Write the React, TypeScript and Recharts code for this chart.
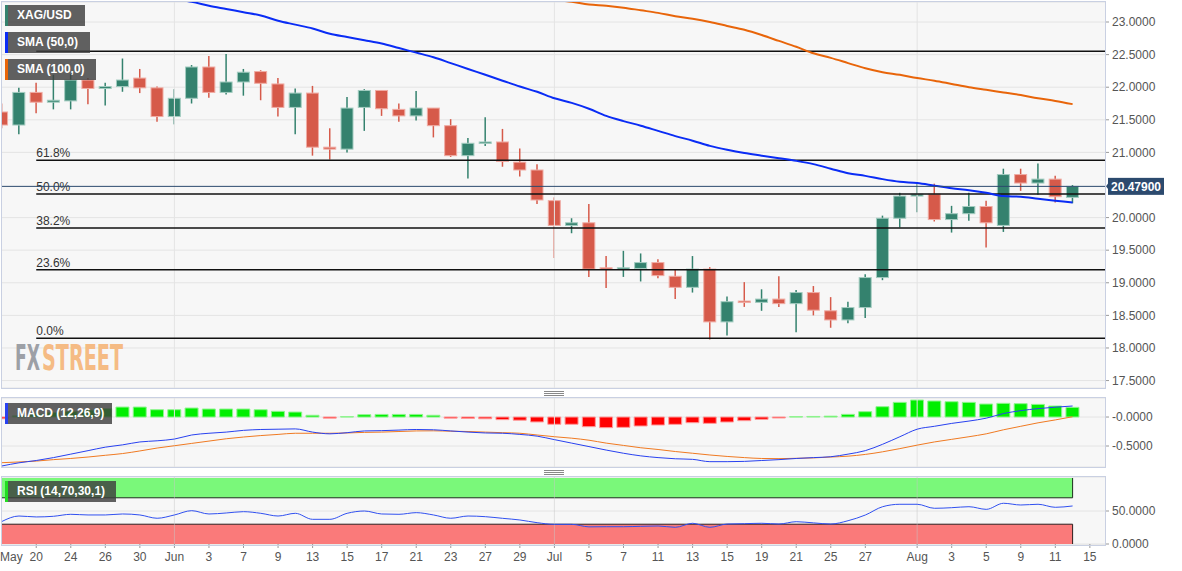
import React from 'react';
import {
  ComposedChart,
  Bar,
  Line,
  XAxis,
  YAxis,
  CartesianGrid,
  ReferenceLine,
  ReferenceArea,
  Cell,
} from 'recharts';

// trading days shown on the chart (2022)
const DATES = [
  'May 18', 'May 19', 'May 20', 'May 23', 'May 24', 'May 25', 'May 26', 'May 27', 'May 30', 'May 31',
  'Jun 1', 'Jun 2', 'Jun 3', 'Jun 6', 'Jun 7', 'Jun 8', 'Jun 9', 'Jun 10', 'Jun 13', 'Jun 14',
  'Jun 15', 'Jun 16', 'Jun 17', 'Jun 20', 'Jun 21', 'Jun 22', 'Jun 23', 'Jun 24', 'Jun 27', 'Jun 28',
  'Jun 29', 'Jun 30', 'Jul 1', 'Jul 4', 'Jul 5', 'Jul 6', 'Jul 7', 'Jul 8', 'Jul 11', 'Jul 12',
  'Jul 13', 'Jul 14', 'Jul 15', 'Jul 18', 'Jul 19', 'Jul 20', 'Jul 21', 'Jul 22', 'Jul 25', 'Jul 26',
  'Jul 27', 'Jul 28', 'Jul 29', 'Aug 1', 'Aug 2', 'Aug 3', 'Aug 4', 'Aug 5', 'Aug 8', 'Aug 9',
  'Aug 10', 'Aug 11', 'Aug 12',
];

const OPEN = [
  21.62, 21.42, 21.92, 21.77, 21.79, 22.11, 21.98, 22.01, 22.14, 21.99,
  21.55, 21.83, 22.31, 21.92, 22.08, 22.24, 22.05, 21.69, 21.91, 21.08,
  21.05, 21.69, 21.95, 21.66, 21.56, 21.68, 21.41, 20.95, 21.15, 21.16,
  20.85, 20.73, 20.26, 19.88, 19.92, 19.23, 19.22, 19.22, 19.31, 19.10,
  18.93, 19.21, 18.40, 18.72, 18.70, 18.75, 18.68, 18.85, 18.57, 18.43,
  18.62, 19.08, 19.99, 20.33, 20.36, 19.97, 20.06, 20.17, 19.88, 20.66,
  20.53, 20.59, 20.31,
];
const HIGH = [
  21.75, 21.99, 22.07, 22.19, 22.20, 22.14, 22.07, 22.44, 22.28, 22.01,
  21.97, 22.34, 22.48, 22.51, 22.28, 22.26, 22.14, 21.98, 22.02, 21.37,
  21.85, 21.97, 21.95, 21.75, 21.94, 21.68, 21.51, 21.22, 21.54, 21.36,
  21.06, 20.82, 20.31, 19.99, 20.21, 19.41, 19.49, 19.45, 19.36, 19.20,
  19.41, 19.24, 18.79, 19.01, 18.90, 19.10, 18.89, 18.95, 18.78, 18.71,
  19.13, 20.03, 20.38, 20.52, 20.52, 20.18, 20.38, 20.26, 20.75, 20.75,
  20.83, 20.64, 20.50,
];
const LOW = [
  21.37, 21.28, 21.60, 21.66, 21.66, 21.74, 21.72, 21.93, 21.91, 21.47,
  21.43, 21.75, 21.84, 21.89, 21.87, 21.80, 21.55, 21.28, 20.95, 20.89,
  21.00, 21.33, 21.56, 21.47, 21.49, 21.23, 20.93, 20.60, 21.10, 20.78,
  20.63, 20.21, 19.38, 19.76, 19.09, 18.92, 19.09, 19.02, 19.07, 18.75,
  18.85, 18.13, 18.19, 18.63, 18.57, 18.63, 18.24, 18.50, 18.31, 18.38,
  18.46, 19.04, 19.85, 20.08, 19.94, 19.77, 19.95, 19.54, 19.78, 20.41,
  20.35, 20.23, 20.22,
];
const CLOSE = [
  21.42, 21.92, 21.77, 21.80, 22.11, 21.98, 22.01, 22.11, 21.99, 21.55,
  21.83, 22.31, 21.92, 22.08, 22.23, 22.06, 21.69, 21.91, 21.08, 21.05,
  21.68, 21.95, 21.67, 21.56, 21.68, 21.41, 20.95, 21.14, 21.16, 20.86,
  20.73, 20.27, 19.88, 19.92, 19.21, 19.21, 19.23, 19.31, 19.11, 18.93,
  19.21, 18.40, 18.71, 18.70, 18.75, 18.68, 18.85, 18.58, 18.43, 18.62,
  19.08, 19.99, 20.33, 20.36, 19.97, 20.06, 20.17, 19.92, 20.66, 20.53,
  20.59, 20.32, 20.479,
];

const SMA50 = [
  null, null, null, null, null, null, null, null, null, null,
  23.35, 23.31, 23.25, 23.2, 23.15, 23.1, 23.02, 22.96, 22.9, 22.82,
  22.77, 22.72, 22.67, 22.6, 22.53, 22.46, 22.37, 22.28, 22.19, 22.1,
  22.01, 21.93, 21.83, 21.76, 21.67, 21.56, 21.48, 21.41, 21.33, 21.25,
  21.18, 21.1, 21.04, 20.99, 20.95, 20.91, 20.87, 20.82, 20.75, 20.68,
  20.64, 20.59, 20.55, 20.53, 20.49, 20.45, 20.42, 20.38, 20.33, 20.32,
  20.29, 20.26, 20.23,
];
const SMA100 = [
  null, null, null, null, null, null, null, null, null, null,
  null, null, null, null, null, null, null, null, null, null,
  null, null, null, null, null, null, null, null, null, null,
  null, 23.37, 23.34, 23.31, 23.27, 23.25, 23.22, 23.18, 23.14, 23.09,
  23.05, 23.0, 22.94, 22.88, 22.8, 22.71, 22.62, 22.52, 22.45, 22.37,
  22.29, 22.23, 22.19, 22.14, 22.1, 22.05, 22.0, 21.96, 21.92, 21.88,
  21.83, 21.79, 21.74,
];

const MACD = [
  -0.845, -0.79, -0.75, -0.7, -0.64, -0.58, -0.52, -0.48, -0.43, -0.41,
  -0.38, -0.31, -0.28, -0.26, -0.23, -0.215, -0.21, -0.205, -0.26, -0.29,
  -0.27, -0.24, -0.235, -0.225, -0.215, -0.22, -0.24, -0.26, -0.275, -0.28,
  -0.3, -0.33, -0.39, -0.45, -0.51, -0.57, -0.625, -0.67, -0.7, -0.72,
  -0.73, -0.77, -0.77, -0.765, -0.75, -0.735, -0.715, -0.7, -0.685, -0.64,
  -0.58, -0.47, -0.34, -0.21, -0.16, -0.11, -0.07, -0.02, 0.06, 0.11,
  0.145, 0.17, 0.19,
];
const SIGNAL = [
  -0.788, -0.775, -0.76, -0.735, -0.715, -0.69, -0.66, -0.63, -0.585, -0.535,
  -0.495, -0.455, -0.415, -0.375, -0.345, -0.32, -0.3, -0.28, -0.28, -0.28,
  -0.275, -0.265, -0.26, -0.25, -0.24, -0.238, -0.245, -0.25, -0.26, -0.27,
  -0.28, -0.31, -0.34, -0.365, -0.4, -0.45, -0.49, -0.53, -0.56, -0.595,
  -0.625, -0.655, -0.68, -0.7, -0.715, -0.718, -0.712, -0.705, -0.69, -0.675,
  -0.645, -0.6, -0.545, -0.485, -0.43, -0.385, -0.34, -0.29, -0.22, -0.16,
  -0.1, -0.05, 0.005,
];
const HIST = [
  -0.03, 0.02, 0.05, 0.08, 0.1, 0.12, 0.144, 0.172, 0.172, 0.126,
  0.126, 0.155, 0.138, 0.138, 0.138, 0.126, 0.098, 0.086, 0.03, -0.02,
  0.005, 0.04, 0.045, 0.045, 0.045, 0.03, -0.02, -0.025, -0.03, -0.045,
  -0.055, -0.085, -0.125, -0.125, -0.167, -0.184, -0.178, -0.155, -0.138, -0.126,
  -0.098, -0.109, -0.086, -0.063, -0.04, -0.017, 0.005, 0.01, 0.015, 0.046,
  0.092, 0.178, 0.253, 0.293, 0.276, 0.264, 0.253, 0.224, 0.236, 0.23,
  0.218, 0.19, 0.167,
];
const RSI = [
  34, 42.4, 41, 42, 45, 44, 44, 45.5, 44, 39,
  44, 50.5, 45.5, 47, 49, 46.5, 42.4, 46.5, 37.4, 37.4,
  46.5, 50, 45.5, 45, 47.5, 44, 39, 42.4, 41.4, 38.9,
  36.4, 32.3, 29.8, 29.8, 26, 26.2, 26.2, 26.8, 27.3, 25.3,
  31.4, 25.3, 30.3, 30.8, 31.4, 30.3, 33.8, 32, 30.3, 35.3,
  43.9, 56.5, 60.2, 60.2, 54.1, 55, 56.5, 52.5, 61.7, 59.1,
  60.2, 55.6, 57.6,
];

const FIB_LEVELS = [
  { label: '0.0%', value: 18.15 },
  { label: '23.6%', value: 19.2 },
  { label: '38.2%', value: 19.84 },
  { label: '50.0%', value: 20.36 },
  { label: '61.8%', value: 20.88 },
  { label: '', value: 22.55 },
];
const FIB_START = 2;
const LAST_PRICE = 20.479;

const X_TICKS = [0, 2, 4, 6, 8, 10, 12, 14, 16, 18, 20, 22, 24, 26, 28, 30, 32, 34, 36, 38, 40, 42, 44, 46, 48, 50, 53, 55, 57, 59, 61, 63];
const X_LABELS = ['May', '20', '24', '26', '30', 'Jun', '3', '7', '9', '13', '15', '17', '21', '23', '27', '29', 'Jul', '5', '7', '11', '13', '15', '19', '21', '25', '27', 'Aug', '3', '5', '9', '11', '15'];
const MONTH_STARTS = [10, 32, 53];

const PRICE_TICKS = [17.5, 18, 18.5, 19, 19.5, 20, 21, 21.5, 22, 22.5, 23];
const MACD_TICKS = [-0.5, 0];
const RSI_TICKS = [0, 50];

const rows = DATES.map((date, i) => ({
  i,
  date,
  open: OPEN[i],
  high: HIGH[i],
  low: LOW[i],
  close: CLOSE[i],
  sma50: SMA50[i],
  sma100: SMA100[i],
  macd: MACD[i],
  signal: SIGNAL[i],
  hist: HIST[i],
  rsi: RSI[i],
}));

const W = 1182;
const AXIS_W = 77;
const X_DOMAIN: [number, number] = [-0.04, 63.876];
const GRID = '#e4e4e4';
const FRAME = '#c9d0e2';
const UP = '#34826e';
const UP_EDGE = '#a3ccc0';
const DOWN = '#d65a4a';
const DOWN_EDGE = '#f0aca4';
const FONT = '"Liberation Sans", Arial, sans-serif';

function Candle(props: any) {
  const { x, y, width, height, payload } = props;
  if (!payload) return null;
  const { open, close, high, low } = payload;
  const top = Math.min(y, y + height);
  const h = Math.abs(height);
  const span = high - low || 1;
  const toY = (v: number) => top + ((high - v) / span) * h;
  const cx = x + width / 2;
  const up = close >= open;
  const fill = up ? UP : DOWN;
  const bTop = toY(Math.max(open, close));
  const bBot = toY(Math.min(open, close));
  return (
    <g>
      <line x1={cx} x2={cx} y1={top} y2={top + h} stroke={fill} strokeWidth={1.5} />
      <rect
        x={cx - 6}
        y={bTop}
        width={12}
        height={Math.max(bBot - bTop, 1.5)}
        fill={fill}
        stroke={up ? UP_EDGE : DOWN_EDGE}
        strokeWidth={1}
      />
    </g>
  );
}

function FibLabel({ viewBox, text }: any) {
  if (!viewBox || !text) return null;
  return (
    <text x={viewBox.x} y={viewBox.y - 3} fontSize={12} fill="#333">
      {text}
    </text>
  );
}

function PriceTag({ viewBox, text }: any) {
  if (!viewBox) return null;
  const x = viewBox.x + viewBox.width;
  const y = viewBox.y;
  return (
    <g>
      <path d={`M${x + 1},${y} L${x + 4},${y - 4} L${x + 4},${y + 4} Z`} fill="#2c4a6e" />
      <rect x={x + 3} y={y - 8.5} width={56} height={17} fill="#2c4a6e" />
      <text x={x + 31} y={y + 4.5} textAnchor="middle" fill="#fff" fontSize={12} fontWeight="bold">
        {text}
      </text>
    </g>
  );
}

function DateTick({ x, y, payload }: any) {
  const idx = X_TICKS.indexOf(payload.value);
  const label = X_LABELS[idx] ?? '';
  const first = idx === 0;
  return (
    <g>
      {!first && <line x1={x} x2={x} y1={y - 9} y2={y - 5} stroke="#999" />}
      <text x={first ? 0 : x} y={y + 8} textAnchor={first ? 'start' : 'middle'} fontSize={12} fill="#555">
        {label}
      </text>
    </g>
  );
}

function Tag({ top, text, color, width }: { top: number; text: string; color: string; width: number }) {
  return (
    <div
      style={{
        position: 'absolute',
        left: 5,
        top,
        width,
        height: 21,
        background: 'rgba(62,62,62,0.82)',
        borderLeft: `3px solid ${color}`,
        boxSizing: 'border-box',
        color: '#fff',
        fontSize: 12,
        fontWeight: 'bold',
        lineHeight: '21px',
        paddingLeft: 9,
        whiteSpace: 'nowrap',
        overflow: 'hidden',
      }}
    >
      {text}
    </div>
  );
}

function Frame({ top, height }: { top: number; height: number }) {
  return (
    <div
      style={{
        position: 'absolute',
        left: 1,
        top,
        width: 1105,
        height,
        border: `1px solid ${FRAME}`,
        boxSizing: 'border-box',
        pointerEvents: 'none',
      }}
    />
  );
}

function Grip({ top }: { top: number }) {
  return (
    <div style={{ position: 'absolute', left: 544, top, width: 20 }}>
      {[0, 2, 4].map((d) => (
        <div key={d} style={{ position: 'absolute', top: d, width: 20, height: 1, background: '#888' }} />
      ))}
    </div>
  );
}

// watermark: condensed bold letters squeezed horizontally
function Watermark() {
  const sx = 0.58;
  const font = '"DejaVu Sans Condensed", "DejaVu Sans", sans-serif';
  return (
    <svg style={{ position: 'absolute', left: 15, top: 340, overflow: 'visible' }} width={114} height={36}>
      <g transform={`scale(${sx},1)`}>
        <text x={0} y={30} fontFamily={font} fontWeight="bold" fontSize={36} fill="#9da0a6"
          textLength={25 / sx} lengthAdjust="spacingAndGlyphs">
          FX
        </text>
        <text x={27 / sx} y={30} fontFamily={font} fontWeight="bold" fontSize={36} fill="#f5bb84"
          textLength={81 / sx} lengthAdjust="spacingAndGlyphs">
          STREET
        </text>
      </g>
    </svg>
  );
}

const priceFmt = (v: number) => v.toFixed(4);
const macdFmt = (v: number) => (v === 0 ? '-0.0000' : v.toFixed(4));

export default function App() {
  const yTick = { fill: '#555', fontSize: 12 };
  return (
    <div style={{ position: 'relative', width: W, height: 571, background: '#fff', fontFamily: FONT, overflow: 'hidden' }}>
      <style>{'body{margin:0}'}</style>

      {/* price panel */}
      <div style={{ position: 'absolute', left: 0, top: 0 }}>
        <ComposedChart width={W} height={390} data={rows} margin={{ top: 2, right: 0, bottom: 2, left: 1 }}>
          <CartesianGrid fill="#f7f7f7" stroke={GRID} vertical={false} />
          <XAxis type="number" dataKey="i" domain={X_DOMAIN} allowDataOverflow hide />
          <YAxis
            orientation="right"
            width={AXIS_W}
            domain={[17.386, 23.307]}
            allowDataOverflow
            ticks={PRICE_TICKS}
            tickFormatter={priceFmt}
            tick={yTick}
            tickLine={{ stroke: '#999' }}
            tickSize={4}
            tickMargin={3}
            axisLine={false}
          />
          {MONTH_STARTS.map((m) => (
            <ReferenceLine key={m} x={m} stroke={GRID} />
          ))}
          {FIB_LEVELS.map((f) => (
            <ReferenceLine
              key={f.value}
              segment={[
                { x: FIB_START, y: f.value },
                { x: X_DOMAIN[1], y: f.value },
              ]}
              stroke="#111"
              strokeWidth={1.5}
              label={<FibLabel text={f.label} />}
            />
          ))}
          <Bar
            dataKey={(d: any) => [d.low, d.high]}
            shape={<Candle />}
            barSize={13}
            isAnimationActive={false}
          />
          <Line type="monotone" dataKey="sma100" stroke="#e8650a" strokeWidth={2} dot={false} isAnimationActive={false} />
          <Line type="monotone" dataKey="sma50" stroke="#0a2cf5" strokeWidth={2} dot={false} isAnimationActive={false} />
          <ReferenceLine y={LAST_PRICE} stroke="#2c4a6e" label={<PriceTag text={LAST_PRICE.toFixed(5)} />} />
        </ComposedChart>
      </div>

      {/* MACD panel */}
      <div style={{ position: 'absolute', left: 0, top: 396 }}>
        <ComposedChart width={W} height={73} data={rows} margin={{ top: 2, right: 0, bottom: 2, left: 1 }}>
          <CartesianGrid fill="#f7f7f7" stroke={GRID} vertical={false} />
          <XAxis type="number" dataKey="i" domain={X_DOMAIN} allowDataOverflow hide />
          <YAxis
            orientation="right"
            width={AXIS_W}
            domain={[-0.862, 0.328]}
            allowDataOverflow
            ticks={MACD_TICKS}
            tickFormatter={macdFmt}
            tick={yTick}
            tickLine={{ stroke: '#999' }}
            tickSize={4}
            tickMargin={3}
            axisLine={false}
          />
          {MONTH_STARTS.map((m) => (
            <ReferenceLine key={m} x={m} stroke={GRID} />
          ))}
          <Bar dataKey="hist" barSize={13} isAnimationActive={false}>
            {rows.map((r) => (
              <Cell
                key={r.i}
                fill={r.hist >= 0 ? '#00ee00' : '#ff0000'}
                stroke={r.hist >= 0 ? '#8ef58e' : '#ff9a9a'}
              />
            ))}
          </Bar>
          <Line type="monotone" dataKey="signal" stroke="#f07a22" strokeWidth={1} dot={false} isAnimationActive={false} />
          <Line type="monotone" dataKey="macd" stroke="#2841f0" strokeWidth={1} dot={false} isAnimationActive={false} />
        </ComposedChart>
      </div>

      {/* RSI panel */}
      <div style={{ position: 'absolute', left: 0, top: 475 }}>
        <ComposedChart width={W} height={96} data={rows} margin={{ top: 2, right: 0, bottom: 0, left: 1 }}>
          <CartesianGrid fill="#f7f7f7" stroke={GRID} vertical={false} />
          <XAxis
            type="number"
            dataKey="i"
            domain={X_DOMAIN}
            allowDataOverflow
            ticks={X_TICKS}
            interval={0}
            height={26}
            axisLine={false}
            tickLine={false}
            tick={<DateTick />}
          />
          <YAxis
            orientation="right"
            width={AXIS_W}
            domain={[-1.5, 101.5]}
            allowDataOverflow
            ticks={RSI_TICKS}
            tickFormatter={priceFmt}
            tick={yTick}
            tickLine={{ stroke: '#999' }}
            tickSize={4}
            tickMargin={3}
            axisLine={false}
          />
          <ReferenceArea x1={X_DOMAIN[0]} x2={62} y1={70} y2={100} fill="#7af87a" fillOpacity={1} stroke="none" />
          <ReferenceArea x1={X_DOMAIN[0]} x2={62} y1={0} y2={30} fill="#fa7a7a" fillOpacity={1} stroke="none" />
          <ReferenceLine segment={[{ x: X_DOMAIN[0], y: 70 }, { x: 62, y: 70 }]} stroke="#1e2e1e" />
          <ReferenceLine segment={[{ x: X_DOMAIN[0], y: 30 }, { x: 62, y: 30 }]} stroke="#2e1e1e" />
          <ReferenceLine segment={[{ x: 62, y: 70 }, { x: 62, y: 100 }]} stroke="#1e2e1e" />
          <ReferenceLine segment={[{ x: 62, y: 0 }, { x: 62, y: 30 }]} stroke="#2e1e1e" />
          {MONTH_STARTS.map((m) => (
            <ReferenceLine key={m} x={m} stroke="rgba(200,200,200,0.5)" />
          ))}
          <Line type="monotone" dataKey="rsi" stroke="#3050f0" strokeWidth={1} dot={false} isAnimationActive={false} />
        </ComposedChart>
      </div>

      <Frame top={1} height={388} />
      <Frame top={397} height={71} />
      <Frame top={476} height={70} />
      <Grip top={391} />
      <Grip top={470} />

      <Watermark />

      <Tag top={5} text="XAG/USD" color={UP} width={80} />
      <Tag top={32} text="SMA (50,0)" color="#0a2cf5" width={85} />
      <Tag top={59} text="SMA (100,0)" color="#e8650a" width={91} />
      <Tag top={403} text="MACD (12,26,9)" color="#2841f0" width={107} />
      <Tag top={481} text="RSI (14,70,30,1)" color="#22dd22" width={111} />
    </div>
  );
}
